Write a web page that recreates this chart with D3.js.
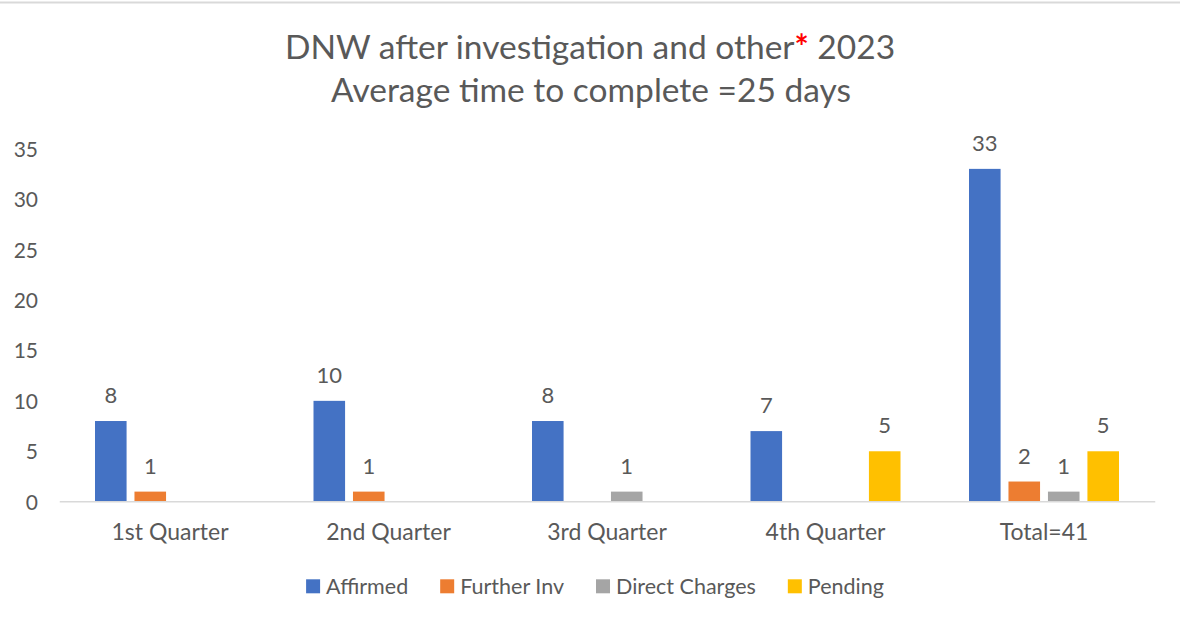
<!DOCTYPE html>
<html>
<head>
<meta charset="utf-8">
<script src="https://cdn.jsdelivr.net/npm/d3@7"></script>
<style>
  body { margin: 0; background: #fff; }
  svg text { font-family: Lato, "Open Sans", sans-serif; fill: #595959; }
</style>
</head>
<body>
<div id="chart"></div>
<script>
// Data
const categories = ["1st Quarter", "2nd Quarter", "3rd Quarter", "4th Quarter", "Total=41"];
const series = ["Affirmed", "Further Inv", "Direct Charges", "Pending"];
const affirmed = [8, 10, 8, 7, 33];
const furtherInv = [1, 1, null, null, 2];
const directCharges = [null, null, 1, null, 1];
const pending = [null, null, null, 5, 5];
const yTicks = [0, 5, 10, 15, 20, 25, 30, 35];

const colors = ["#4472C4", "#ED7D31", "#A5A5A5", "#FFC000"];
const values = [affirmed, furtherInv, directCharges, pending];

const width = 1180;
const height = 623;
const plot = { left: 60.75, right: 1153.25, top: 148.7, bottom: 501.7 };

const svg = d3.select("#chart")
    .append("svg")
    .attr("width", width)
    .attr("height", height);

// thin border line at the very top
svg.append("line")
    .attr("x1", 0).attr("x2", width)
    .attr("y1", 2.5).attr("y2", 2.5)
    .attr("stroke", "#d9d9d9")
    .attr("stroke-width", 2);

// Title
const title = svg.append("text")
    .attr("text-anchor", "middle")
    .style("font-size", "33.5px");
const l1 = title.append("tspan").attr("x", 590).attr("y", 59);
l1.append("tspan").text("DNW after investigation and other");
l1.append("tspan").style("fill", "#FF0000").style("font-weight", "bold").text("*");
l1.append("tspan").text(" 2023");
title.append("tspan").attr("x", 591).attr("y", 102).text("Average time to complete =25 days");

// Scales
const x0 = d3.scaleBand()
    .domain(categories)
    .range([plot.left, plot.right])
    .padding(0);

const x1 = d3.scaleBand()
    .domain(series)
    .range([34.25, 184.25])
    .paddingInner(0.2)
    .paddingOuter(0);

const y = d3.scaleLinear()
    .domain([0, 35])
    .range([plot.bottom, plot.top]);

// Y axis labels (no axis line, no gridlines)
const yAxis = svg.append("g")
    .attr("transform", "translate(38,0)")
    .call(d3.axisLeft(y).tickValues(yTicks).tickSize(0).tickPadding(0));
yAxis.select(".domain").remove();
yAxis.selectAll("text")
    .attr("dy", "0.36em")
    .style("font-size", "21px")
    .attr("fill", null);

// Bars
const rows = [];
categories.forEach((c, i) => {
    series.forEach((s, j) => {
        if (values[j][i] != null) rows.push({ cat: c, ser: s, v: values[j][i], color: colors[j] });
    });
});

svg.append("g").selectAll("rect")
    .data(rows)
    .join("rect")
    .attr("x", d => x0(d.cat) + x1(d.ser))
    .attr("y", d => y(d.v))
    .attr("width", x1.bandwidth())
    .attr("height", d => y(0) - y(d.v))
    .attr("fill", d => d.color);

// Data labels
svg.append("g").selectAll("text")
    .data(rows)
    .join("text")
    .attr("x", d => x0(d.cat) + x1(d.ser) + x1.bandwidth() / 2)
    .attr("y", d => y(d.v) - 18)
    .attr("text-anchor", "middle")
    .style("font-size", "22px")
    .text(d => d.v);

// X axis line and category labels
const xAxis = svg.append("g")
    .attr("transform", `translate(0,${plot.bottom})`)
    .call(d3.axisBottom(x0).tickSize(0).tickPadding(0));
xAxis.select(".domain")
    .attr("stroke", "#d9d9d9")
    .attr("stroke-width", 1.5)
    .attr("d", `M${plot.left - 1},0H${plot.right + 2}`);
xAxis.selectAll("text")
    .attr("y", 38.5)
    .attr("dy", null)
    .style("font-size", "23px")
    .attr("fill", null);

// Legend, centred under the plot
const legend = svg.append("g");
const items = legend.selectAll("g")
    .data(series)
    .join("g");
items.append("rect")
    .attr("width", 14)
    .attr("height", 14)
    .attr("y", 579.3)
    .attr("fill", (d, i) => colors[i]);
items.append("text")
    .attr("x", 20)
    .attr("y", 594)
    .style("font-size", "21.5px")
    .text(d => d);

let cx = 0;
items.each(function () {
    const g = d3.select(this);
    g.attr("transform", `translate(${cx},0)`);
    cx += 20 + g.select("text").node().getComputedTextLength() + 32;
});
const total = cx - 32;
legend.attr("transform", `translate(${595 - total / 2},0)`);
</script>
</body>
</html>
